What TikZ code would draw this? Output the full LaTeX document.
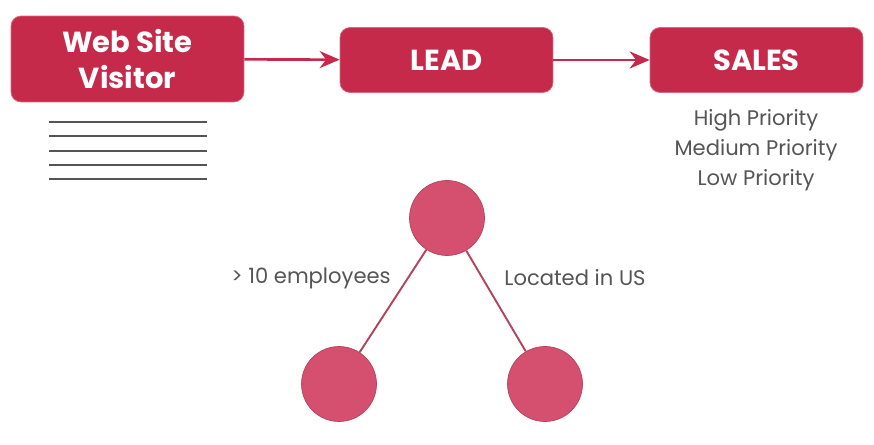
\documentclass[tikz,border=0pt]{standalone}
\usepackage{fontspec}
\setmainfont{Poppins}
\usetikzlibrary{arrows.meta}
\definecolor{leadred}{HTML}{C62A4A}
\definecolor{nodepink}{HTML}{D4506E}
\definecolor{textgray}{HTML}{555555}

\begin{document}
\begin{tikzpicture}[x=0.02cm, y=-0.02cm,
	stage/.style={fill=leadred, draw=leadred!70!white, rounded corners=0.2cm, text=white, align=center, inner sep=0pt, font=\bfseries\fontsize{16.5}{20.5}\selectfont},
	flow/.style={draw=leadred, line width=1.5pt, -{Stealth[length=0.4cm, width=0.34cm]}},
	split/.style={circle, fill=nodepink, draw=nodepink!85!black, minimum size=1.5cm, inner sep=0pt},
	tie/.style={draw=nodepink!85!black, line width=1.1pt},
	note/.style={text=textgray, font=\fontsize{12}{17}\selectfont, align=center}]
		\useasboundingbox (0,0) rectangle (874,445);
		% top row
		\node[stage, minimum width=4.66cm, minimum height=1.72cm] (visitor) at (127.5,59) {Web Site\\Visitor};
		\node[stage, minimum width=4.26cm, minimum height=1.3cm] (lead) at (446.5,60) {LEAD};
		\node[stage, minimum width=4.26cm, minimum height=1.3cm] (sales) at (756.5,60) {SALES};
		\draw [flow] (visitor) -- (lead);
		\draw [flow] (lead) -- (sales);
		\node[note] (prio) at (756,150) {High Priority\\Medium Priority\\Low Priority};
		% text lines under visitor
		\foreach \y in {122,136,151,165,179}
			\draw [textgray, line width=1.1pt] (49,\y) -- (207,\y);
		% tree
		\node[split] (root) at (447,218) {};
		\node[split] (left) at (339,384) {};
		\node[split] (right) at (545,384) {};
		\draw [tie] (root) -- (left);
		\draw [tie] (root) -- (right);
		\node[note] (emp) at (311,278) {> 10 employees};
		\node[note] (us) at (575,278) {Located in US};
	\end{tikzpicture}
\end{document}
